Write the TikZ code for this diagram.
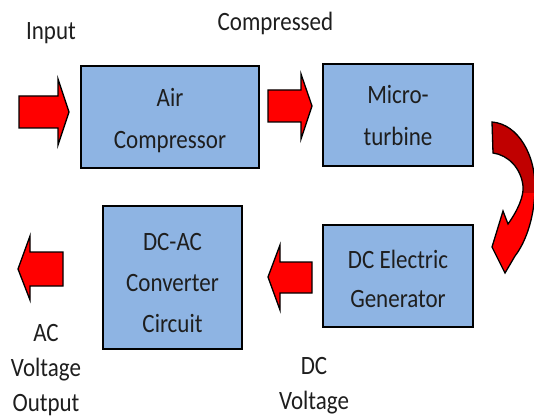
\documentclass[tikz,border=0pt]{standalone}
\usepackage{fontspec}
\setmainfont{Carlito}
\usepackage{graphicx}
\definecolor{boxblue}{RGB}{142,180,227}
\definecolor{arrowred}{RGB}{255,0,0}
\definecolor{darkred}{RGB}{192,0,0}
\definecolor{txtcol}{RGB}{30,30,30}
\newcommand\myLbl[1]{\scalebox{1}[1.15]{#1}}
\newcommand\myCurvPath{(492,122) .. controls (518,124) and (536,155) .. (535,190) .. controls (534,220) and (525,243) .. (515,256) -- (505,273) -- (492,247) -- (503,211) -- (508,224) .. controls (518,210) and (524,196) .. (523,186) .. controls (521,168) and (508,155) .. (493,153) -- cycle}
\begin{document}
\begin{tikzpicture}[x=1pt,y=-1pt,
  box/.style={draw=black, line width=1.6pt, fill=boxblue, inner sep=0pt},
  blockarrow/.style={draw=black, line width=1.3pt, fill=arrowred, line join=miter},
  lbl/.style={font=\fontsize{23}{28}\selectfont, anchor=base, inner sep=0pt, text=txtcol}]
\useasboundingbox (0,0) rectangle (534,419);
% boxes
\node[box, minimum width=178pt, minimum height=102pt] (air) at (170,117) {};
\node[box, minimum width=150pt, minimum height=102pt] (micro) at (398,115) {};
\node[box, minimum width=150pt, minimum height=102pt] (gen) at (398,276) {};
\node[box, minimum width=139pt, minimum height=143pt] (dcac) at (172.5,277.5) {};
% box texts
\node[lbl] (air1) at (170,107) {\myLbl{Air}};
\node[lbl] (air2) at (170,149) {\myLbl{Compressor}};
\node[lbl] (mic1) at (398,104) {\myLbl{Micro-}};
\node[lbl] (mic2) at (398,146) {\myLbl{turbine}};
\node[lbl] (gen1) at (398,268) {\myLbl{DC Electric}};
\node[lbl] (gen2) at (398,307) {\myLbl{Generator}};
\node[lbl] (dca1) at (172.5,250) {\myLbl{DC-AC}};
\node[lbl] (dca2) at (172.5,291) {\myLbl{Converter}};
\node[lbl] (dca3) at (172.5,332) {\myLbl{Circuit}};
% outer labels
\node[lbl] (inp) at (51,40) {\myLbl{Input}};
\node[lbl] (cmp) at (275.5,31) {\myLbl{Compressed}};
\node[lbl] (ac1) at (46,341) {\myLbl{AC}};
\node[lbl] (ac2) at (46,376) {\myLbl{Voltage}};
\node[lbl] (ac3) at (46,411) {\myLbl{Output}};
\node[lbl] (dc1) at (314,374) {\myLbl{DC}};
\node[lbl] (dc2) at (314,409) {\myLbl{Voltage}};
% block arrows
\draw[blockarrow] (19,96) -- (58,96) -- (58,79) -- (69,112) -- (58,145) -- (58,128) -- (19,128) -- cycle;
\draw[blockarrow] (268,90) -- (301,90) -- (301,74) -- (312,106) -- (301,139) -- (301,122) -- (268,122) -- cycle;
\draw[blockarrow] (312,262) -- (280,262) -- (280,245) -- (268,277) -- (280,310) -- (280,293) -- (312,293) -- cycle;
\draw[blockarrow] (63,252) -- (30,252) -- (30,236) -- (18,269) -- (30,300) -- (30,286) -- (63,286) -- cycle;
% curved arrow
\fill[arrowred] \myCurvPath;
\begin{scope}
\clip \myCurvPath;
\fill[darkred] (480,100) rectangle (540,193);
\end{scope}
\draw[line width=1.3pt, line join=miter] \myCurvPath;
\end{tikzpicture}
\end{document}
